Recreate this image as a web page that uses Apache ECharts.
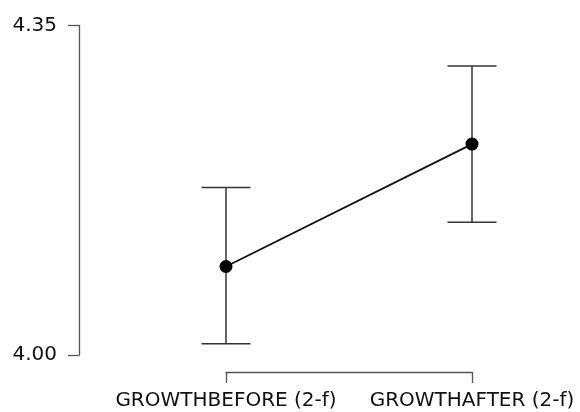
<!DOCTYPE html>
<html>
<head>
<meta charset="utf-8">
<script src="https://cdn.jsdelivr.net/npm/echarts@6/dist/echarts.min.js"></script>
<style>
  html, body { margin: 0; padding: 0; background: #fff; }
  #chart { width: 580px; height: 412px; }
</style>
</head>
<body>
<div id="chart"></div>
<script>
// Descriptive plot: mean with 95% CI for each measurement
const categories = ['GROWTHBEFORE (2-f)', 'GROWTHAFTER (2-f)'];
const means = [4.094, 4.224];
const lowerCI = [4.012, 4.141];
const upperCI = [4.178, 4.307];
const yMin = 4.00;
const yMax = 4.35;

const FONT = 'DejaVu Sans';
const AXIS_COLOR = '#555';

const chart = echarts.init(document.getElementById('chart'), null, { renderer: 'canvas' });

const errData = categories.map((c, i) => [i, lowerCI[i], upperCI[i]]);

chart.setOption({
  animation: false,
  backgroundColor: '#fff',
  grid: { left: 226, right: 108, top: 25.5, bottom: 57 },
  xAxis: {
    type: 'category',
    data: categories,
    boundaryGap: false,
    offset: 17,
    axisLine: { show: true, lineStyle: { color: AXIS_COLOR, width: 1.3 } },
    axisTick: { show: true, length: 11, alignWithLabel: true, lineStyle: { color: AXIS_COLOR, width: 1.3 } },
    axisLabel: { color: '#111', fontFamily: FONT, fontSize: 20, margin: 19, interval: 0 },
    splitLine: { show: false }
  },
  yAxis: {
    type: 'value',
    min: yMin,
    max: yMax,
    interval: yMax - yMin,
    offset: 147,
    axisLine: { show: true, lineStyle: { color: AXIS_COLOR, width: 1.3 } },
    axisTick: { show: true, length: 11, lineStyle: { color: AXIS_COLOR, width: 1.3 } },
    axisLabel: { color: '#111', fontFamily: FONT, fontSize: 20, margin: 22,
      formatter: v => v.toFixed(2) },
    splitLine: { show: false }
  },
  series: [
    {
      type: 'custom',
      clip: false,
      z: 2,
      data: errData,
      renderItem: function (params, api) {
        const x = api.value(0);
        const lo = api.coord([x, api.value(1)]);
        const hi = api.coord([x, api.value(2)]);
        const half = 24.5;
        const style = { stroke: '#333', lineWidth: 1.5 };
        return {
          type: 'group',
          children: [
            { type: 'line', shape: { x1: lo[0], y1: lo[1], x2: hi[0], y2: hi[1] }, style: style },
            { type: 'line', shape: { x1: hi[0] - half, y1: hi[1], x2: hi[0] + half, y2: hi[1] }, style: style },
            { type: 'line', shape: { x1: lo[0] - half, y1: lo[1], x2: lo[0] + half, y2: lo[1] }, style: style }
          ]
        };
      }
    },
    {
      type: 'line',
      data: means,
      z: 3,
      symbol: 'circle',
      symbolSize: 13,
      itemStyle: { color: '#000' },
      lineStyle: { color: '#111', width: 1.8 },
      clip: false
    }
  ]
});
</script>
</body>
</html>
